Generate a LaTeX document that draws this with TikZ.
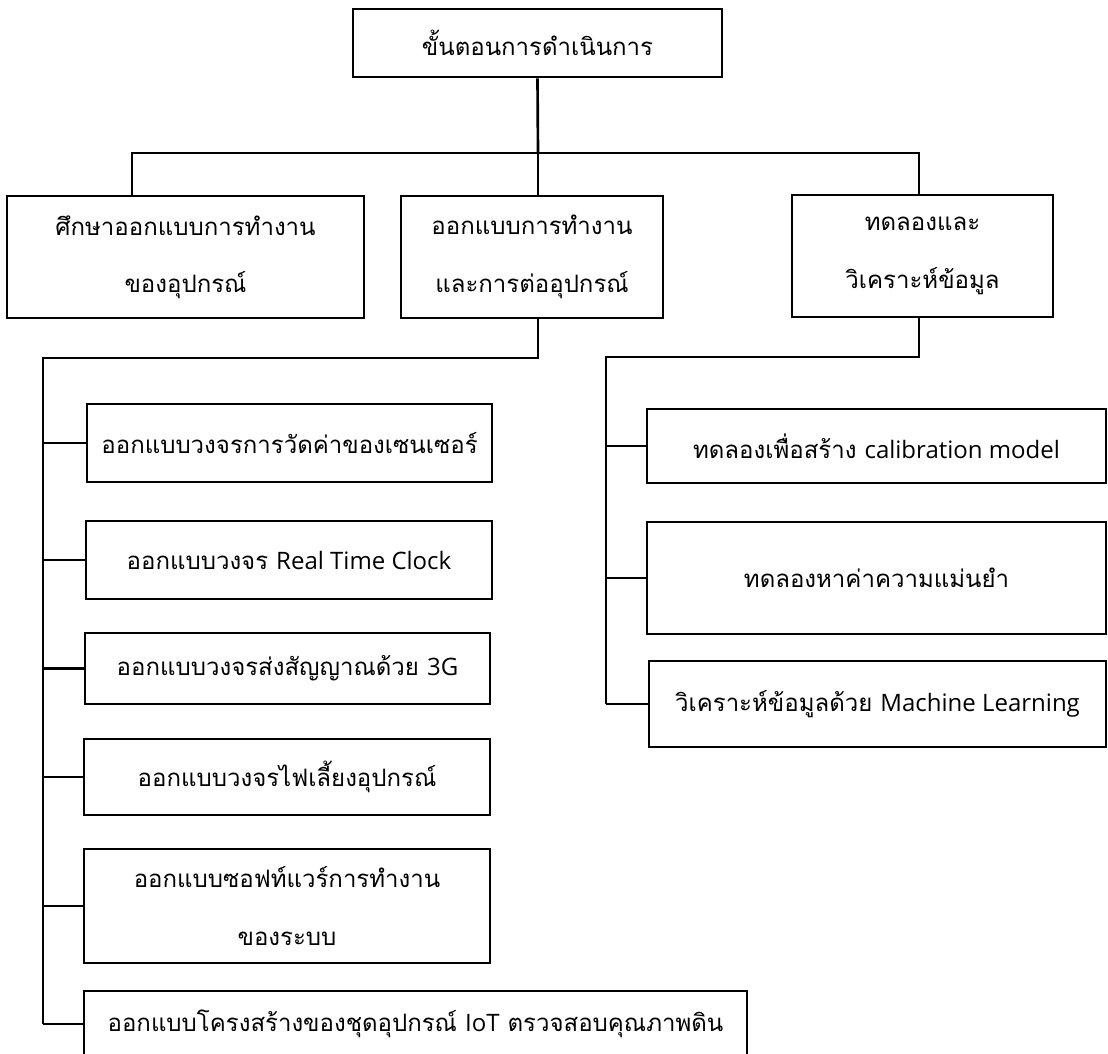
\documentclass[tikz,border=0pt]{standalone}
\usepackage{fontspec}
\newfontfamily\thaifont[Script=Thai]{Loma}
\newfontfamily\latinfont{Open Sans}
\newcommand\lat[1]{{\latinfont #1}}
\begin{document}
\begin{tikzpicture}[x=0.75pt,y=-0.75pt,
  box/.style={draw, line width=2pt, inner sep=0pt, align=center,
    font=\thaifont\fontsize{18}{43}\selectfont},
  conn/.style={line width=2pt}]
\useasboundingbox (0,0) rectangle (1108,1054);
\clip (0,0) rectangle (1108,1054);
\newcommand\bx[6]{\node[box, minimum width={(#4-#2)*0.75pt}, minimum height={(#5-#3)*0.75pt}] (#1) at ({(#2+#4)/2},{(#3+#5)/2}) {#6};}
\bx{T}{353}{9}{722}{77}{ขั้นตอนการดำเนินการ}
\bx{L1}{7}{196}{364}{318}{ศึกษาออกแบบการทำงาน\\ของอุปกรณ์}
\bx{L2}{401}{196}{663}{318}{ออกแบบการทำงาน\\และการต่ออุปกรณ์}
\bx{L3}{792}{195}{1053}{317}{ทดลองและ\\วิเคราะห์ข้อมูล}
\bx{B1}{87}{404}{492}{482}{ออกแบบวงจรการวัดค่าของเซนเซอร์}
\bx{B2}{86}{521}{492}{599}{ออกแบบวงจร \lat{Real Time Clock}}
\bx{B3}{85}{633}{490}{704}{ออกแบบวงจรส่งสัญญาณด้วย \lat{3G}}
\bx{B4}{84}{739}{490}{815}{ออกแบบวงจรไฟเลี้ยงอุปกรณ์}
\bx{B5}{84}{849}{490}{963}{ออกแบบซอฟท์แวร์การทำงาน\\ของระบบ}
\bx{B6}{84}{991}{747}{1057}{ออกแบบโครงสร้างของชุดอุปกรณ์ \lat{IoT} ตรวจสอบคุณภาพดิน}
\bx{R1}{647}{409}{1106}{483}{ทดลองเพื่อสร้าง \lat{calibration model}}
\bx{R2}{647}{522}{1106}{634}{ทดลองหาค่าความแม่นยำ}
\bx{R3}{649}{661}{1106}{747}{วิเคราะห์ข้อมูลด้วย \lat{Machine Learning}}
% connectors
\coordinate (bus) at (538,153);
\coordinate (d1) at (132,196);
\coordinate (d3) at (919,195);
\coordinate (lt) at (538,358);
\coordinate (lv) at (43,358);
\coordinate (rt) at (919,357);
\coordinate (rv) at (606,357);
\draw[conn] (T.south) -- (bus);
\draw[conn] (d1) -- (d1 |- bus) -- (d3 |- bus) -- (d3);
\draw[conn] (bus) -- (bus |- L2.north);
\draw[conn] (bus |- L2.south) -- (lt) -- (lv) -- (lv |- B6.west);
\foreach \n in {B1,B2,B3,B4,B5,B6} \draw[conn] (lv |- \n.west) -- (\n.west);
\draw[conn] (d3 |- L3.south) -- (rt) -- (rv) -- (rv |- R3.west);
\foreach \n in {R1,R2,R3} \draw[conn] (rv |- \n.west) -- (\n.west);
\end{tikzpicture}
\end{document}
